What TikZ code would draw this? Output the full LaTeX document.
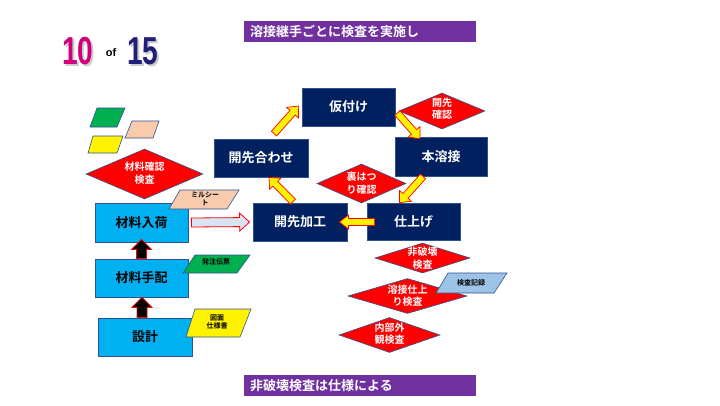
\documentclass[tikz,border=0pt]{standalone}
\usepackage{fontspec}
\setmainfont{Noto Sans CJK JP}[BoldFont={Noto Sans CJK JP Bold}]
\newfontfamily\numfont{Liberation Sans}
\usetikzlibrary{calc,shapes.geometric}
\definecolor{navy}{HTML}{002060}
\definecolor{bord}{HTML}{2F528F}
\definecolor{lblue}{HTML}{00B0F0}
\definecolor{purp}{HTML}{7030A0}
\definecolor{peach}{HTML}{F8CBAD}
\definecolor{pgreen}{HTML}{00B050}
\definecolor{pblue}{HTML}{9DC3E6}
\definecolor{hollow}{HTML}{DAE3F3}
\definecolor{mag}{HTML}{D1007A}
\definecolor{numnavy}{HTML}{1F1F7A}
\newcommand\blockarrow[6]{%
  \coordinate (ba-h) at ($(#3)!#6!(#2)$);
  \draw[#1] ($(#2)!#4!90:(#3)$) -- ($(ba-h)!#4!90:(#3)$) -- ($(ba-h)!#5!90:(#3)$) -- (#3)
    -- ($(ba-h)!#5!-90:(#3)$) -- ($(ba-h)!#4!-90:(#3)$) -- ($(#2)!#4!-90:(#3)$) -- cycle;}
\tikzset{
 navybox/.style={rectangle, draw=bord, fill=navy, text=white, line width=0.8pt, inner sep=0pt, font=\fontsize{13}{15}\selectfont\bfseries},
 bluebox/.style={rectangle, draw=bord, fill=lblue, text=black, line width=0.8pt, inner sep=0pt, font=\fontsize{13}{15}\selectfont\bfseries},
 dia/.style={diamond, draw=bord, fill=red, line width=0.6pt, inner sep=0pt},
 diatext/.style={text=white, align=center, font=\fontsize{10}{12.5}\selectfont\bfseries, inner sep=0pt},
 para/.style={draw=bord, line width=0.6pt},
 paratext/.style={text=black, align=center, font=\fontsize{7}{8}\selectfont\bfseries, inner sep=0pt},
 banner/.style={fill=purp, inner sep=0pt, anchor=north west},
 bannertext/.style={text=white, font=\fontsize{13}{15}\selectfont\bfseries, anchor=west, inner sep=0pt},
 yarrow/.style={fill=yellow, draw=red, line width=0.7pt, line join=miter},
 barrow/.style={fill=black, draw=red, line width=0.8pt},
 harrow/.style={fill=hollow, draw=red, line width=0.8pt},
 numtext/.style={font=\numfont\bfseries\fontsize{39}{39}\selectfont, inner sep=0pt},
}
\begin{document}
\begin{tikzpicture}[x=1pt,y=-1pt]
\useasboundingbox (0,0) rectangle (720,405);
\fill[white] (0,0) rectangle (720,405);

% page counter
\node[numtext, text=gray!40] (tenshadow) at (80,53) {\scalebox{0.72}[1]{10}};
\node[numtext, text=gray!40] (fifteenshadow) at (145,53) {\scalebox{0.72}[1]{15}};
\node[numtext, text=mag] (ten) at (78,51) {\scalebox{0.72}[1]{10}};
\node[font=\numfont\bfseries\fontsize{11}{11}\selectfont, inner sep=0pt] (of) at (111,53) {of};
\node[numtext, text=numnavy] (fifteen) at (143,51) {\scalebox{0.72}[1]{15}};

% banners
\node[banner, minimum width=232pt, minimum height=21pt] (topbanner) at (244,21) {};
\node[bannertext] (toptext) at (250,31.5) {溶接継手ごとに検査を実施し};
\node[banner, minimum width=232pt, minimum height=21pt] (botbanner) at (244,375) {};
\node[bannertext] (bottext) at (250,385.5) {非破壊検査は仕様による};

% legend parallelograms
\draw[para, fill=pgreen] (90,127) -- (97,108) -- (125,108) -- (117,127) -- cycle;
\draw[para, fill=peach] (125,138) -- (132,121) -- (159,121) -- (153,138) -- cycle;
\draw[para, fill=yellow] (88,153) -- (93,136) -- (123,136) -- (117,153) -- cycle;

% left column
\node[dia, minimum width=117pt, minimum height=50pt] (zairyou) at (144.5,174) {};
\node[diatext] (zairyoutext) at (144.5,173) {材料確認\\検査};
\node[bluebox, minimum width=93pt, minimum height=39pt] (nyuka) at (141.5,222.5) {材料入荷};
\node[bluebox, minimum width=93pt, minimum height=38pt] (tehai) at (141.5,278) {材料手配};
\node[bluebox, minimum width=94pt, minimum height=38pt] (sekkei) at (145,337) {設計};

\draw[para, fill=peach] (169,209) -- (180,190) -- (239,190) -- (227,209) -- cycle;
\node[paratext] (mill) at (205,199) {ミルシー\\ト};
\draw[para, fill=pgreen] (183,273) -- (195,255) -- (250,255) -- (237,273) -- cycle;
\node[paratext] (hatchu) at (216,262) {発注伝票};
\draw[para, fill=yellow] (186,337) -- (195,309) -- (251,309) -- (240,337) -- cycle;
\node[paratext] (zumen) at (217,322) {図面\\仕様書};

% navy process boxes
\node[navybox, minimum width=93pt, minimum height=38pt] (kari) at (348.5,107) {仮付け};
\node[navybox, minimum width=92pt, minimum height=39pt] (honyou) at (441,156.5) {本溶接};
\node[navybox, minimum width=94pt, minimum height=38pt] (awase) at (261,158) {開先合わせ};
\node[navybox, minimum width=94pt, minimum height=38pt] (kakou) at (300,222) {開先加工};
\node[navybox, minimum width=93pt, minimum height=37pt] (shiage) at (413.5,221.5) {仕上げ};

% check diamonds
\node[dia, minimum width=86pt, minimum height=36pt] (kaisaki) at (442,111) {};
\node[diatext] (kaisakitext) at (442,108.5) {開先\\確認};
\node[dia, minimum width=89pt, minimum height=39pt] (ura) at (361.5,183.5) {};
\node[diatext] (uratext) at (361.5,183) {裏はつ\\り確認};
\node[dia, minimum width=95pt, minimum height=30pt] (hihakai) at (422.5,258) {};
\node[diatext] (hihakaitext) at (422.5,258) {非破壊\\検査};
\node[dia, minimum width=119pt, minimum height=35pt] (yousetsu) at (407.5,296) {};
\node[diatext] (yousetsutext) at (407.5,295.5) {溶接仕上\\り検査};
\node[dia, minimum width=101pt, minimum height=35pt] (naibu) at (389.5,335) {};
\node[diatext] (naibutext) at (389.5,333.5) {内部外\\観検査};

\draw[para, fill=pblue] (436,293) -- (448,273) -- (507,273) -- (494,293) -- cycle;
\node[paratext] (kiroku) at (471,282.5) {検査記録};

% yellow flow arrows
\coordinate (a1s) at ($(awase.north)+(13,-5)$);
\coordinate (a1e) at ($(kari.west)+(-3,-1)$);
\blockarrow{yarrow}{a1s}{a1e}{3.5pt}{8pt}{9pt}
\coordinate (a2s) at ($(kari.east)+(2,6)$);
\coordinate (a2e) at ($(honyou.north)+(-21,2)$);
\blockarrow{yarrow}{a2s}{a2e}{3.5pt}{8pt}{9pt}
\coordinate (a3s) at ($(honyou.south)+(-18,0)$);
\coordinate (a3e) at ($(shiage.north)+(-14,0)$);
\blockarrow{yarrow}{a3s}{a3e}{3.5pt}{8pt}{9pt}
\coordinate (a4s) at ($(shiage.west)+(8,0.5)$);
\coordinate (a4e) at ($(kakou.east)+(-8,0)$);
\blockarrow{yarrow}{a4s}{a4e}{3.5pt}{7pt}{9pt}
\coordinate (a5s) at ($(kakou.north)+(-7,-1)$);
\coordinate (a5e) at ($(awase.south)+(8,0)$);
\blockarrow{yarrow}{a5s}{a5e}{3.5pt}{8pt}{9pt}

% left column arrows
\coordinate (b1s) at (tehai.north);
\coordinate (b1e) at ($(nyuka.south)+(0,-3)$);
\blockarrow{barrow}{b1s}{b1e}{5pt}{10pt}{10pt}
\coordinate (b2s) at ($(sekkei.north)+(-3,0)$);
\coordinate (b2e) at ($(tehai.south)+(0.5,0)$);
\blockarrow{barrow}{b2s}{b2e}{5pt}{10pt}{10pt}
\coordinate (hs) at ($(nyuka.east)+(3,0)$);
\coordinate (he) at ($(kakou.west)+(-3,0)$);
\blockarrow{harrow}{hs}{he}{4.5pt}{9pt}{10pt}
\end{tikzpicture}
\end{document}
